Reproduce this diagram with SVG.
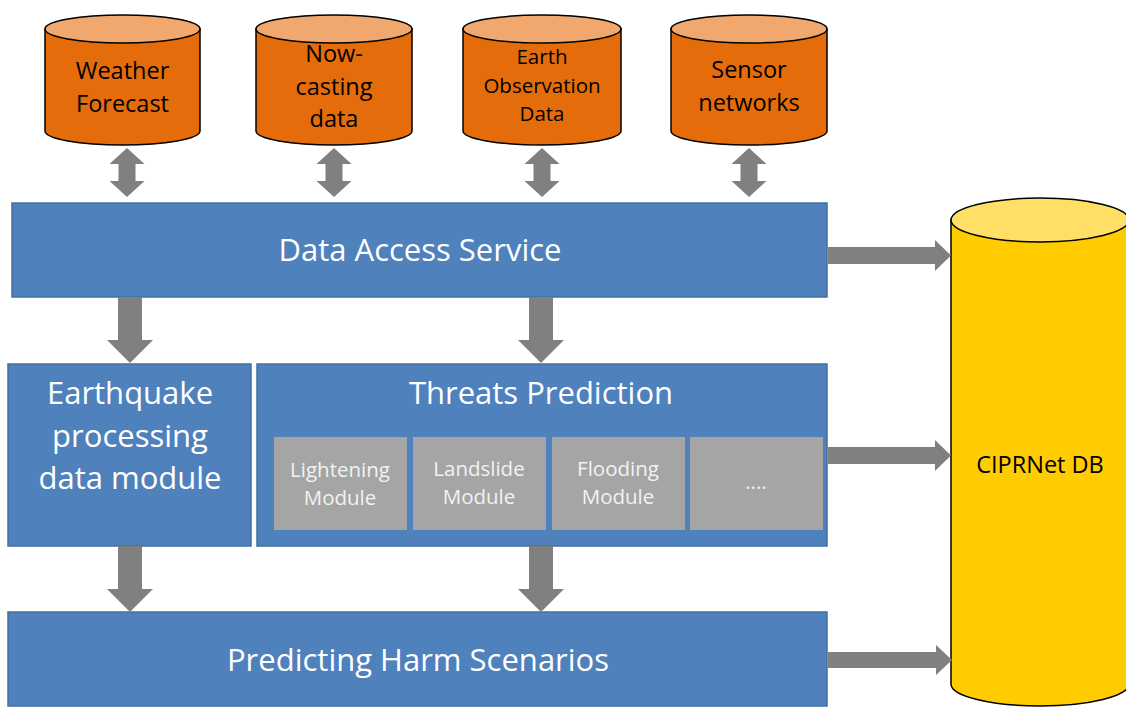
<svg xmlns="http://www.w3.org/2000/svg" width="1126" height="707" viewBox="0 0 1126 707">
  <style>
    .box { fill: #4f81bd; stroke: #41719c; stroke-width: 1.5; }
    .mod { fill: #a5a5a5; }
    .big { font-family: "Open Sans", "Liberation Sans", sans-serif; font-size: 31px; fill: #ffffff; text-anchor: middle; }
    .small { font-family: "Open Sans", "Liberation Sans", sans-serif; font-size: 20.5px; fill: #f2f2f2; text-anchor: middle; }
    .dbt { font-family: "Open Sans", "Liberation Sans", sans-serif; font-size: 23.5px; fill: #000000; text-anchor: middle; }
    .dbs { font-family: "Open Sans", "Liberation Sans", sans-serif; font-size: 20.5px; fill: #000000; text-anchor: middle; }
    .body { fill: #e46c0a; stroke: #000; stroke-width: 1.5; }
    .top { fill: #f0a86e; stroke: #000; stroke-width: 1.5; }
    .ybody { fill: #ffcc00; stroke: #000; stroke-width: 1.5; }
    .ytop { fill: #ffdf66; stroke: #000; stroke-width: 1.5; }
    .arrow { fill: #808080; }
  </style>

  <!-- data sources -->
  <g id="weather">
    <path class="body" d="M45,29 V131 A77.5,14 0 0 0 200,131 V29 Z"/>
    <ellipse class="top" cx="122.5" cy="29" rx="77.5" ry="14"/>
    <text class="dbt" x="122.5" y="79">Weather</text>
    <text class="dbt" x="122.5" y="112">Forecast</text>
  </g>
  <g id="nowcasting">
    <path class="body" d="M256,29 V131 A78,14 0 0 0 412,131 V29 Z"/>
    <ellipse class="top" cx="334" cy="29" rx="78" ry="14"/>
    <text class="dbt" x="334" y="62">Now-</text>
    <text class="dbt" x="334" y="95">casting</text>
    <text class="dbt" x="334" y="127">data</text>
  </g>
  <g id="earthobs">
    <path class="body" d="M463,29 V131 A79,14 0 0 0 621,131 V29 Z"/>
    <ellipse class="top" cx="542" cy="29" rx="79" ry="14"/>
    <text class="dbs" x="542" y="64">Earth</text>
    <text class="dbs" x="542" y="93">Observation</text>
    <text class="dbs" x="542" y="121">Data</text>
  </g>
  <g id="sensors">
    <path class="body" d="M671,29 V131 A78,14 0 0 0 827,131 V29 Z"/>
    <ellipse class="top" cx="749" cy="29" rx="78" ry="14"/>
    <text class="dbt" x="749" y="78">Sensor</text>
    <text class="dbt" x="749" y="111">networks</text>
  </g>

  <!-- processing blocks -->
  <g id="data-access">
    <rect class="box" x="12" y="203" width="815" height="94"/>
    <text class="big" x="420" y="261">Data Access Service</text>
  </g>
  <g id="earthquake">
    <rect class="box" x="8" y="364" width="243" height="182"/>
    <text class="big" x="130" y="404">Earthquake</text>
    <text class="big" x="130" y="447">processing</text>
    <text class="big" x="130" y="489">data module</text>
  </g>
  <g id="threats">
    <rect class="box" x="257" y="364" width="570" height="182"/>
    <text class="big" x="541" y="404">Threats Prediction</text>
    <g id="lightening">
      <rect class="mod" x="274" y="437" width="133" height="93"/>
      <text class="small" x="340" y="477">Lightening</text>
      <text class="small" x="340" y="505">Module</text>
    </g>
    <g id="landslide">
      <rect class="mod" x="413" y="437" width="133" height="93"/>
      <text class="small" x="479" y="476">Landslide</text>
      <text class="small" x="479" y="504">Module</text>
    </g>
    <g id="flooding">
      <rect class="mod" x="552" y="437" width="133" height="93"/>
      <text class="small" x="618" y="476">Flooding</text>
      <text class="small" x="618" y="504">Module</text>
    </g>
    <g id="more">
      <rect class="mod" x="690" y="437" width="133" height="93"/>
      <text class="small" x="756" y="489">....</text>
    </g>
  </g>
  <g id="harm">
    <rect class="box" x="8" y="612" width="819" height="94"/>
    <text class="big" x="418" y="671">Predicting Harm Scenarios</text>
  </g>

  <!-- database -->
  <g id="ciprnet-db">
    <path class="ybody" d="M951,220 V684 A89,22 0 0 0 1129,684 V220 Z"/>
    <ellipse class="ytop" cx="1040" cy="220" rx="89" ry="22"/>
    <text class="dbt" x="1040" y="473">CIPRNet DB</text>
  </g>

  <!-- connectors -->
  <g id="connectors" class="arrow">
    <!-- two-way links between sources and data access -->
    <path d="M127,148 L144.5,164 H135.5 V181 H144.5 L127,197 L109.5,181 H118.5 V164 H109.5 Z"/>
    <path d="M334,148 L351.5,164 H342.5 V181 H351.5 L334,197 L316.5,181 H325.5 V164 H316.5 Z"/>
    <path d="M542,148 L559.5,164 H550.5 V181 H559.5 L542,197 L524.5,181 H533.5 V164 H524.5 Z"/>
    <path d="M749,148 L766.5,164 H757.5 V181 H766.5 L749,197 L731.5,181 H740.5 V164 H731.5 Z"/>
    <!-- downward flow -->
    <path d="M118,297 H142 V340 H153 L130,363 L107,340 H118 Z"/>
    <path d="M529,297 H553 V340 H564 L541,363 L518,340 H529 Z"/>
    <path d="M118,546 H142 V589 H153 L130,612 L107,589 H118 Z"/>
    <path d="M529,546 H553 V589 H564 L541,612 L518,589 H529 Z"/>
    <!-- outputs to database -->
    <path d="M828,247 H935 V240 L951,255.5 L935,271 V264 H828 Z"/>
    <path d="M828,447 H935 V440 L951,455.5 L935,471 V464 H828 Z"/>
    <path d="M828,652 H936 V645 L952,660 L936,675 V668 H828 Z"/>
  </g>
</svg>
